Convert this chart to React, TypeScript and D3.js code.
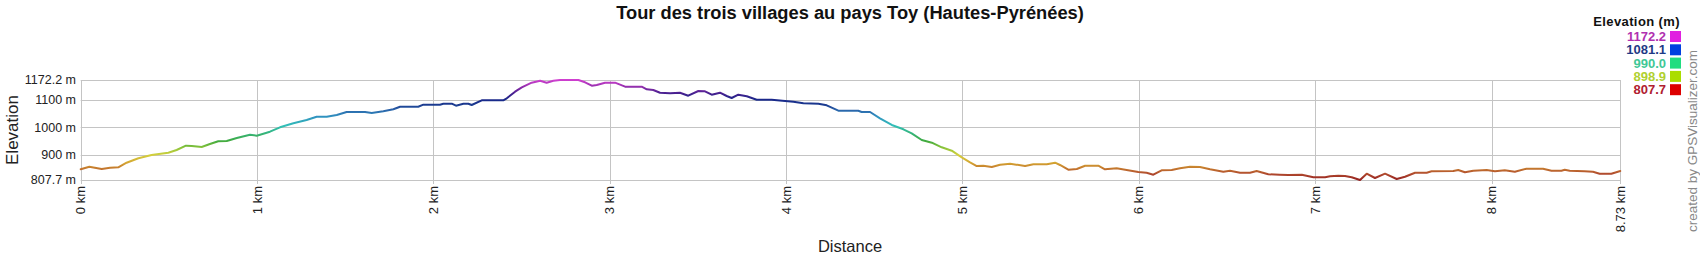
import React from "react";
import * as d3 from "d3";

const distanceKm = [
  0, 0.049, 0.119, 0.166, 0.213, 0.26, 0.327, 0.402, 0.497, 0.544, 0.597, 0.629, 0.686, 0.733, 0.78, 0.828, 0.885, 0.96, 0.998,
  1.073, 1.13, 1.206, 1.281, 1.338, 1.395, 1.452, 1.508, 1.612, 1.65, 1.716, 1.773, 1.811, 1.914, 1.943,
  2.037, 2.056, 2.104, 2.128, 2.17, 2.198, 2.217, 2.274, 2.396, 2.416, 2.463, 2.501, 2.557, 2.605, 2.642, 2.68, 2.718, 2.822, 2.86, 2.898, 2.926, 2.973,
  3.03, 3.087, 3.181, 3.21, 3.247, 3.285, 3.342, 3.398, 3.445, 3.502, 3.54, 3.578, 3.625, 3.663, 3.691, 3.729, 3.777, 3.833, 3.918, 3.994,
  4.041, 4.098, 4.183, 4.23, 4.296, 4.409, 4.428, 4.476, 4.532, 4.599, 4.665, 4.712, 4.769, 4.826, 4.882, 4.939, 4.996,
  5.043, 5.081, 5.118, 5.166, 5.213, 5.27, 5.355, 5.402, 5.478, 5.525, 5.553, 5.6, 5.648, 5.695, 5.77, 5.808, 5.874, 5.931, 5.997,
  6.044, 6.082, 6.129, 6.186, 6.233, 6.29, 6.347, 6.404, 6.479, 6.517, 6.574, 6.63, 6.668, 6.734, 6.8, 6.848, 6.924, 6.99,
  7.056, 7.084, 7.131, 7.169, 7.207, 7.254, 7.292, 7.339, 7.396, 7.462, 7.509, 7.566, 7.632, 7.66, 7.783, 7.811, 7.849, 7.896, 7.972,
  8.019, 8.075, 8.132, 8.198, 8.292, 8.34, 8.396, 8.415, 8.443, 8.528, 8.575, 8.613, 8.679, 8.73,
];

const elevationM = [
  846.7, 856, 847.8, 852.5, 854, 870.8, 886.8, 898.8, 907.2, 917, 932.7, 931.6, 928, 938.9, 948.8, 949.9, 960.8, 972.8, 969.2,
  983.8, 999.8, 1014.4, 1026.4, 1038.4, 1038.4, 1044.6, 1055.6, 1055.6, 1051.9, 1058, 1065.4, 1074.9, 1074.9, 1082.2,
  1082.2, 1085.8, 1085.8, 1078.5, 1085.8, 1085.8, 1081, 1098.2, 1098.2, 1105.5, 1129.6, 1145.6, 1162.4, 1169.7, 1162.4, 1169.7, 1172.2, 1172.2, 1163.8, 1151.4, 1154, 1162.4,
  1162.4, 1147.8, 1147.8, 1138.3, 1135.8, 1125.9, 1123.7, 1125.9, 1115, 1132.1, 1131, 1118.6, 1125.9, 1113.9, 1106.6, 1118.6, 1112.8, 1100.4, 1100.4, 1095.7,
  1093.1, 1087.3, 1085.8, 1080, 1060.3, 1060.3, 1055.6, 1055.6, 1032.6, 1008.2, 992.5, 977.9, 953.5, 943.7, 926.9, 914.5, 890.4,
  872.2, 858.7, 859.8, 855.1, 863.5, 867.1, 858.7, 864.9, 864.9, 870.8, 862.4, 845.2, 847.8, 859.8, 859.8, 846.7, 850.3, 844.2, 836.9,
  834.3, 827, 843.1, 844.2, 850.3, 856.2, 855.1, 846.7, 838, 841.6, 834.3, 834.3, 840.5, 828.5, 827, 825.9, 827, 817.5,
  817.5, 821.2, 823.4, 822.3, 817.5, 807.7, 830.7, 815, 830.7, 811.3, 819.7, 834.3, 834.3, 839.4, 840.5, 844.2, 835.8, 841.6, 844.2,
  839.4, 843.1, 838, 848.9, 848.9, 841.6, 841.6, 845.2, 841.6, 839.4, 838, 830.7, 830.7, 840.5,
];

const xTickValues = [0, 1, 2, 3, 4, 5, 6, 7, 8, 8.73];
const xTickLabels = ["0 km", "1 km", "2 km", "3 km", "4 km", "5 km", "6 km", "7 km", "8 km", "8.73 km"];
const yTickValues = [807.7, 900, 1000, 1100, 1172.2];
const yTickLabels = ["807.7 m", "900 m", "1000 m", "1100 m", "1172.2 m"];
const legendLabels = ["1172.2", "1081.1", "990.0", "898.9", "807.7"];

const gradientStops: [number, string][] = [
  [807.7, "#952020"],
  [830, "#b04a2e"],
  [850, "#c4782e"],
  [870, "#d4a432"],
  [898.9, "#d4d03c"],
  [925, "#8cc43a"],
  [950, "#3faa3f"],
  [980, "#35b580"],
  [1005, "#32c0b8"],
  [1040, "#3090c0"],
  [1065, "#2a60a8"],
  [1081.1, "#1c3c90"],
  [1100, "#18288a"],
  [1125, "#4a2090"],
  [1150, "#9a30b0"],
  [1172.2, "#d040d0"],
];
const legendTextColors = ["#b030b0", "#1f3a86", "#3fc896", "#b0d030", "#b02030"];
const legendBoxColors = ["#e020e0", "#0040e0", "#20dd80", "#aadd00", "#dd0000"];

const FONT = "Arial, 'Liberation Sans', Helvetica, sans-serif";

export default function App() {
  const W = 1700;
  const H = 260;
  const x = d3.scaleLinear().domain([0, 8.73]).range([80.7, 1620.3]);
  const y = d3.scaleLinear().domain([807.7, 1172.2]).range([180, 80]);
  const pts: [number, number][] = distanceKm.map((d, i) => [d, elevationM[i]]);
  const line = d3
    .line<[number, number]>()
    .x((d) => x(d[0]))
    .y((d) => y(d[1]));
  const snap = (v: number) => Math.round(v) + 0.5;
  const minE = 807.7;
  const maxE = 1172.2;

  return (
    <svg
      width={W}
      height={H}
      style={{ position: "absolute", left: 0, top: 0, background: "#fff" }}
      fontFamily={FONT}
    >
      <defs>
        <linearGradient
          id="elevGrad"
          gradientUnits="userSpaceOnUse"
          x1={0}
          x2={0}
          y1={y(minE)}
          y2={y(maxE)}
        >
          {gradientStops.map(([e, c], i) => (
            <stop key={i} offset={(e - minE) / (maxE - minE)} stopColor={c} />
          ))}
        </linearGradient>
      </defs>
      <rect x={0} y={0} width={W} height={H} fill="#fff" />
      <text x={850} y={19} textAnchor="middle" fontSize={18.3} fontWeight="bold" fill="#111">
        Tour des trois villages au pays Toy (Hautes-Pyrénées)
      </text>

      {yTickValues.map((v, i) => (
        <line key={"gy" + i} x1={x(0)} x2={x(8.73)} y1={snap(y(v))} y2={snap(y(v))} stroke="#c4c4c4" strokeWidth={1} />
      ))}
      {xTickValues.map((v, i) => (
        <line key={"gx" + i} x1={snap(x(v))} x2={snap(x(v))} y1={y(maxE)} y2={y(minE) + 4} stroke="#c4c4c4" strokeWidth={1} />
      ))}

      {yTickValues.map((v, i) => (
        <text key={"yl" + i} x={76} y={y(v)} dy="0.35em" textAnchor="end" fontSize={12.5} fill="#222">
          {yTickLabels[i]}
        </text>
      ))}
      {xTickValues.map((v, i) => (
        <text
          key={"xl" + i}
          transform={`translate(${x(v)},${186}) rotate(-90)`}
          dy="0.35em"
          textAnchor="end"
          fontSize={13}
          fill="#222"
        >
          {xTickLabels[i]}
        </text>
      ))}

      <text transform={`translate(18,130) rotate(-90)`} textAnchor="middle" fontSize={17} fill="#222">
        Elevation
      </text>
      <text x={850} y={252} textAnchor="middle" fontSize={16.5} fill="#222">
        Distance
      </text>

      <path
        d={line(pts) || ""}
        fill="none"
        stroke="url(#elevGrad)"
        strokeWidth={2}
        strokeLinejoin="round"
        strokeLinecap="round"
      />

      <text x={1680} y={26} textAnchor="end" fontSize={13} fontWeight="bold" fill="#111" letterSpacing={0.4}>
        Elevation (m)
      </text>
      {legendLabels.map((l, i) => {
        const by = 41 + i * 13.3;
        return (
          <g key={"lg" + i}>
            <text x={1666} y={by} textAnchor="end" fontSize={13} fontWeight="bold" fill={legendTextColors[i]}>
              {l}
            </text>
            <rect x={1670} y={by - 10} width={11} height={11} fill={legendBoxColors[i]} />
          </g>
        );
      })}
      <text transform={`translate(1697,141) rotate(-90)`} textAnchor="middle" fontSize={13.5} fill="#888">
        created by GPSVisualizer.com
      </text>
    </svg>
  );
}
